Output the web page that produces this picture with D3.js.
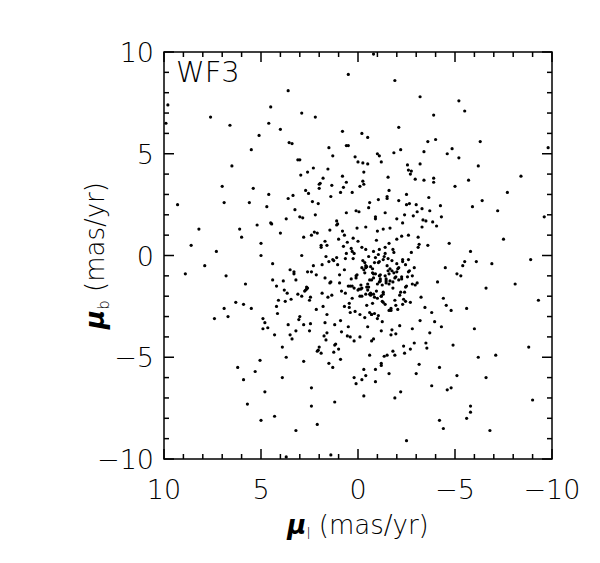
<!DOCTYPE html>
<html><head><meta charset="utf-8">
<script src="https://cdn.jsdelivr.net/npm/d3@7"></script>
<style>body{margin:0;background:#fff}text{font-family:"DejaVu Sans",sans-serif;font-weight:200}</style>
</head><body><svg id="chart" width="600" height="563"></svg>
<script>
// proper motions
var outer_l = [9.8,9.9,9.3,8.6,7.6,7.3,6.8,5.0,3.2,2.4,1.2,-2.5,-4.2,-4.4,-5.8,-5.8,-5.6,-6.8,-9.0,1.4,3.7,0.5,-0.8,3.6,-5.2,-5.5,-9.8,-8.4,6.6,6.2,5.9,4.8,4.5,-3.2,-6.3,-7.7,-8.8,-9.3,-7.1,-6.6,8.2,7.9,7.0,6.9,-7.5,-8.1,-9.6,-6.0,4.3,2.9,-1.9,-3.9,5.5,-4.8,-6.2,8.9,-8.9,7.4,-7.2,2.1]
var outer_b = [7.4,6.5,2.5,0.5,6.8,0.2,-1.0,-8.1,-8.6,-7.4,-7.2,-9.1,-8.1,-8.5,-7.4,-7.7,-8.0,-8.6,-7.1,-9.8,-9.9,8.9,9.9,8.1,7.6,7.1,5.3,3.9,6.4,-5.5,-6.1,-6.7,7.3,7.8,5.6,3.1,-4.5,-2.2,-4.9,-6.0,1.3,-0.5,3.4,-2.6,0.8,-1.4,1.9,-3.6,-7.9,7.0,8.6,6.9,5.2,-6.5,4.4,-0.9,-0.2,-3.1,2.2,-8.3]
var inner_l = [0.2,-0.4,0.8,-1.1,1.5,-1.6,0.5,-0.9,1.9,-2.1,2.4,-2.6,0.1,-0.2,1.1,-1.3,0.7,-0.6,1.7,-1.8,2.8,-2.9,3.1,-3.3,0.3,-0.1,1.3,-1.5,0.9,-0.8,2.2,-2.3,3.5,-3.6,0.6,-0.5,1.6,-1.4,2.6,-2.5,4.0,-4.1,0.4,-0.3,1.2,-1.2,2.0,-2.0,3.0,-3.0,4.4,-4.4,0.0,-0.7,1.4,-1.9,2.5,-2.7,3.7,-3.8,5.0,-5.1,0.9,-1.0,1.8,-1.7,2.9,-3.2,4.2,-4.3,5.5,-5.4,0.5,-0.3,1.0,-1.1,2.3,-2.4,3.4,-3.5,4.7,-4.8,6.0,-6.1,0.2,-0.5,1.5,-1.6,2.7,-2.8,3.9,-3.9,5.2,-5.3,6.3,-6.4,0.8,-0.9,0.1,-0.2,1.3,-1.2,2.1,-2.2,3.3,-3.2,4.5,-4.5,5.8,-5.7,0.6,-0.4,1.7,-1.5,2.8,-2.6,3.8,-3.7,4.9,-5.0,0.3,-0.6,1.1,-1.3,2.4,-2.1,3.6,-3.4,4.1,-4.2,5.6,-5.6,0.7,-0.8,1.9,-1.8,2.0,-2.9,3.2,-3.1,4.6,-4.6,6.5,-6.2,0.4,-0.1,1.6,-1.4,2.6,-2.4,3.0,-3.6,5.3,-4.9,0.0,-1.0,1.2,-0.3,2.2,-1.6,3.4,-2.3,4.3,-3.3,5.9,-5.2,0.9,-0.6,1.4,-1.1,2.5,-2.0,3.1,-2.7,4.8,-4.0,6.7,-5.9,0.1,-0.4,1.8,-1.2,2.9,-1.9,3.9,-2.8,5.1,-3.9,0.5,-0.9,1.0,-1.7,2.3,-2.5,3.5,-3.0,4.4,-4.7,5.4,-5.5,0.2,-0.2,1.3,-0.7,2.1,-1.4,3.3,-2.2,4.0,-3.5,0.8,-1.3,1.5,-0.5,2.7,-2.6,3.6,-1.8,4.6,-4.3,6.1,-6.6,0.6,-0.1,1.7,-0.9,2.0,-2.8,3.0,-3.4,4.9,-5.8,0.3,-1.5,1.1,-0.2,2.4,-1.0,3.7,-2.1,5.7,-4.6,0.7,-0.8,1.9,-1.6,2.8,-3.1,4.2,-3.7,6.9,-6.9,0.4,-1.2,1.6,-0.6,2.6,-2.3,3.2,-3.8,5.0,-5.1,-0.3,-1.9,-0.1,-2.4,-0.7,-1.1,-0.4,-1.8,-1.4,-2.0,0.0,-0.5,-1.0,-1.3,-2.2,-0.8,-1.6,-0.2,-2.7,-1.5,-0.9,-0.6,-1.2,-2.5,-0.3,-1.7,-0.4,-2.0,-1.1,-0.8,0.1,-1.4,-2.1,-0.5,-1.0,-1.9,-0.2,-2.6,-1.3,-0.7,0.6,-1.6,0.3,-2.3,-0.9,-1.2,0.2,-0.4,-1.8,-2.8]
var inner_b = [0.1,-0.5,1.2,-1.0,-0.3,0.6,-1.5,1.8,0.4,-1.2,-0.8,1.0,2.2,-2.0,1.5,-1.8,-2.5,2.6,-1.1,0.3,0.9,-0.6,-1.9,1.4,3.1,-2.9,-0.2,2.9,-3.2,-0.9,2.0,-2.4,-0.7,0.5,3.6,-3.5,-2.9,2.1,-1.6,3.0,1.1,-1.3,-4.0,4.1,-4.4,-3.7,3.3,0.8,-3.0,2.5,-0.4,-2.1,4.6,-4.2,2.9,-4.9,-3.7,4.0,1.8,-2.8,0.6,-0.9,-5.1,5.0,3.8,-3.9,-2.0,4.5,-1.5,1.9,-2.6,-0.5,5.4,-5.6,-4.6,4.9,4.3,-4.8,-4.1,1.7,2.4,-2.7,0.9,-0.3,-6.0,5.8,-5.3,-1.4,3.2,-3.6,-4.5,3.8,1.5,-1.0,-2.3,2.7,6.1,-6.2,-6.3,6.0,-5.5,4.6,-4.7,5.2,-0.8,-3.2,1.6,-0.6,-1.4,3.7,5.4,-5.9,-3.3,2.8,-5.2,4.2,-1.7,2.2,-3.1,3.4,0.2,-1.9,-0.1,1.3,-6.5,6.3,-3.4,5.1,-2.2,-5.5,2.6,-2.6,1.0,-4.1,0.5,-1.6,3.5,-4.3,-1.2,0.4,6.5,-6.6,4.4,-5.0,-2.8,3.4,-3.8,0.1,-0.8,-1.8,1.9,5.6,-5.7,-4.4,0.7,1.2,-3.4,-6.9,6.8,-5.8,5.5,-0.2,-3.9,2.3,-2.4,4.8,3.1,-4.9,-1.3,0.3,-2.2,1.8,4.7,-4.6,-3.3,5.7,-3.0,2.4,-1.1,1.4,-2.5,-5.3,0.0,-7.0,-6.0,-1.0,5.9,3.6,-3.5,1.9,0.8,-2.7,-0.5,2.5,-3.9,-5.8,-1.2,0.6,3.3,-0.3,-4.2,-6.1,4.9,-2.9,1.1,0.4,-0.9,-6.7,6.2,-4.3,3.9,-2.3,5.3,4.5,-1.7,-0.2,2.8,-4.7,3.0,-3.5,1.3,-1.6,2.1,-2.0,0.7,-5.6,-4.5,-1.4,4.7,3.7,-3.6,0.2,-2.1,-4.9,1.7,-0.6,1.0,-3.1,-5.0,2.7,-7.3,5.0,-0.7,-1.9,-4.8,3.2,-3.4,0.9,-2.5,-3.8,2.6,-0.4,-1.5,-5.4,0.5,-2.8,4.1,1.6,-3.7,-6.4,0.0,-5.9,3.5,-1.1,-4.0,2.0,-2.9,-0.3,-0.6,-1.3,-1.0,-0.8,-1.7,-1.4,-2.1,-0.2,-1.8,-1.1,-0.9,-1.6,-2.3,-0.5,-0.1,-1.2,-2.0,-1.5,-0.7,-2.6,-1.9,-0.4,-1.3,0.2,-1.0,-2.4,-0.6,-1.7,-1.4,-2.2,0.4,-0.8,-1.9,-1.2,0.1,-2.7,-1.5,-0.3,-0.9,-2.0,-1.6,0.3]
// extra stars in the crowded core
var core_l = [0.35,-0.75,1.05,-1.45,1.85,-2.25,2.65,-3.05,0.55,-0.15,1.25,-1.65,2.05,-2.45,2.85,-3.25,0.15,-0.55,1.45,-1.85,2.25,-2.65,3.45,-3.85,0.75,-0.35,1.65,-1.05,2.45,-2.05,3.25,-3.45,0.95,-0.95,1.35,-1.25,2.15,-2.85,3.65,-3.65,0.05,-0.45,0.85,-1.55,1.75,-2.15,2.55,-3.15,4.15,-4.25,0.65,-0.65,1.55,-1.95,2.35,-2.35,3.05,-2.95,4.45,-4.55,0.25,-1.15,1.15,-0.25,1.95,-1.75,2.75,-2.75,3.85,-3.35,0.45,-0.85,0.15,-1.35,1.65,-2.55,2.95,-3.55,4.65,-4.05,-0.05,-1.05,0.75,-0.55,1.25,-1.85,2.05,-2.25,3.35,-3.95,0.55,-0.25,1.45,-1.45,2.45,-2.65,3.55,-3.15,5.05,-4.85,0.95,-0.75,1.85,-1.15,2.65,-1.65,3.75,-2.45,-0.35,-1.25,-0.85,-1.55,-0.15,-1.95,-0.65,-2.15,-1.05,-0.45,0.35,-1.75,-0.95,-2.35,-0.25,-1.45,0.05,-2.05,-1.35,-0.55,0.65,-1.65,-0.75,-2.55,1.05,-1.15,0.45,-2.75,-1.85,-0.05,1.35,-0.35,-1.25,-2.95,0.25,-0.85,-1.55,-2.25,0.85,-1.05,1.55,-3.05,-0.45,-1.95,2.15,-0.65,-1.75,-2.45,1.15,-1.35,0.15,-2.65]
var core_b = [0.35,-0.85,1.55,-1.25,-0.45,0.95,-1.65,2.15,0.65,-1.45,-0.25,1.35,2.55,-2.25,1.85,-2.05,-2.75,2.35,-1.35,0.15,1.15,-0.75,-2.15,1.65,3.35,-3.05,-0.05,2.75,-3.35,-0.65,2.25,-2.55,-0.95,0.75,3.45,-3.25,-2.65,1.95,-1.85,2.85,1.35,-1.55,-3.75,3.85,-3.95,-3.45,3.05,0.55,-2.85,2.45,-0.15,-1.95,4.25,-3.85,2.65,-4.45,-3.15,3.75,1.55,-2.45,0.85,-1.15,-4.35,4.55,3.55,-3.65,-1.75,4.15,-1.25,1.75,-2.35,-0.35,4.85,-4.95,-4.15,4.45,3.95,-4.55,-3.55,1.45,2.15,-2.95,0.45,-0.05,-4.75,5.05,-4.65,-1.05,2.95,-3.25,-3.95,3.65,1.25,-1.15,-2.05,2.55,5.55,-5.35,-5.15,5.25,-1.35,-0.65,-1.85,-0.95,-1.55,-1.25,-2.25,-0.45,-0.85,-1.45,-2.05,-0.15,-1.65,-1.05,-0.55,-1.95,-0.35,-2.45,-1.15,-0.75,-1.75,-2.15,-0.25,-1.35,-0.95,-2.65,-0.05,-1.55,-1.85,-0.65,-2.35,-1.05,-0.45,-1.25,-2.55,0.15,-0.85,-1.65,-1.95,-0.35,-2.25,-1.45,-0.15,-2.85,-0.75,-1.15,-1.75,0.05,-2.05,-1.35,-0.55,-2.45,-0.95,-1.85,-0.25,-1.55]
var ticks = [10, 5, 0, -5, -10]

var svg = d3.select("#chart")
var m_left = 164, m_right = 552, m_top = 52, m_bottom = 459

var x = d3.scaleLinear().domain([10, -10]).range([m_left, m_right])
var y = d3.scaleLinear().domain([-10, 10]).range([m_bottom, m_top])

function pairs(a, b) {return a.map(function(d, i) {return [d, b[i]]}).filter(function(p) {return p[1] !== undefined})}
var pts = pairs(outer_l, outer_b).concat(pairs(inner_l, inner_b)).concat(pairs(core_l, core_b))

svg.append("g").selectAll("circle").data(pts).enter().append("circle")
    .attr("cx", function(d) {return x(d[0])})
    .attr("cy", function(d) {return y(d[1])})
    .attr("r", 1.6)
    .attr("fill", "#000")

// frame with inward ticks on all sides
var minor = d3.range(-10, 11)
function tick_len(v) {return v % 5 == 0 ? 10 : 5}
var g = svg.append("g").attr("stroke", "#000").attr("stroke-width", 1.5)
g.append("rect").attr("x", m_left).attr("y", m_top).attr("width", m_right - m_left).attr("height", m_bottom - m_top).attr("fill", "none")
minor.forEach(function(v)
{
    var L = tick_len(v)
    g.append("line").attr("x1", x(v)).attr("x2", x(v)).attr("y1", m_bottom).attr("y2", m_bottom - L)
    g.append("line").attr("x1", x(v)).attr("x2", x(v)).attr("y1", m_top).attr("y2", m_top + L)
    g.append("line").attr("y1", y(v)).attr("y2", y(v)).attr("x1", m_left).attr("x2", m_left + L)
    g.append("line").attr("y1", y(v)).attr("y2", y(v)).attr("x1", m_right).attr("x2", m_right - L)
})

function fmt(v) {return v < 0 ? "\u2212" + (-v) : "" + v}
svg.append("g").selectAll("text").data(ticks).enter().append("text")
    .attr("x", function(d) {return x(d)})
    .attr("y", m_bottom + 40)
    .attr("text-anchor", "middle")
    .style("font-size", "27px")
    .text(fmt)
svg.append("g").selectAll("text").data(ticks).enter().append("text")
    .attr("x", m_left - 10)
    .attr("y", function(d) {return y(d) + 10})
    .attr("text-anchor", "end")
    .style("font-size", "27px")
    .text(fmt)

svg.append("text").attr("x", m_left + 12).attr("y", m_top + 30).style("font-size", "29px").text("WF3")

var xl = svg.append("text").attr("x", (m_left + m_right) / 2).attr("y", 534).attr("text-anchor", "middle").style("font-size", "26px")
xl.append("tspan").style("font-style", "italic").style("font-weight", "bold").text("\u03bc")
xl.append("tspan").attr("dy", 5).style("font-size", "15px").text("l")
xl.append("tspan").attr("dy", -5).text(" (mas/yr)")

var yl = svg.append("text").attr("transform", "translate(104," + ((m_top + m_bottom) / 2) + ") rotate(-90)").attr("text-anchor", "middle").style("font-size", "26px")
yl.append("tspan").style("font-style", "italic").style("font-weight", "bold").text("\u03bc")
yl.append("tspan").attr("dy", 5).style("font-size", "15px").text("b")
yl.append("tspan").attr("dy", -5).text(" (mas/yr)")
</script></body></html>
